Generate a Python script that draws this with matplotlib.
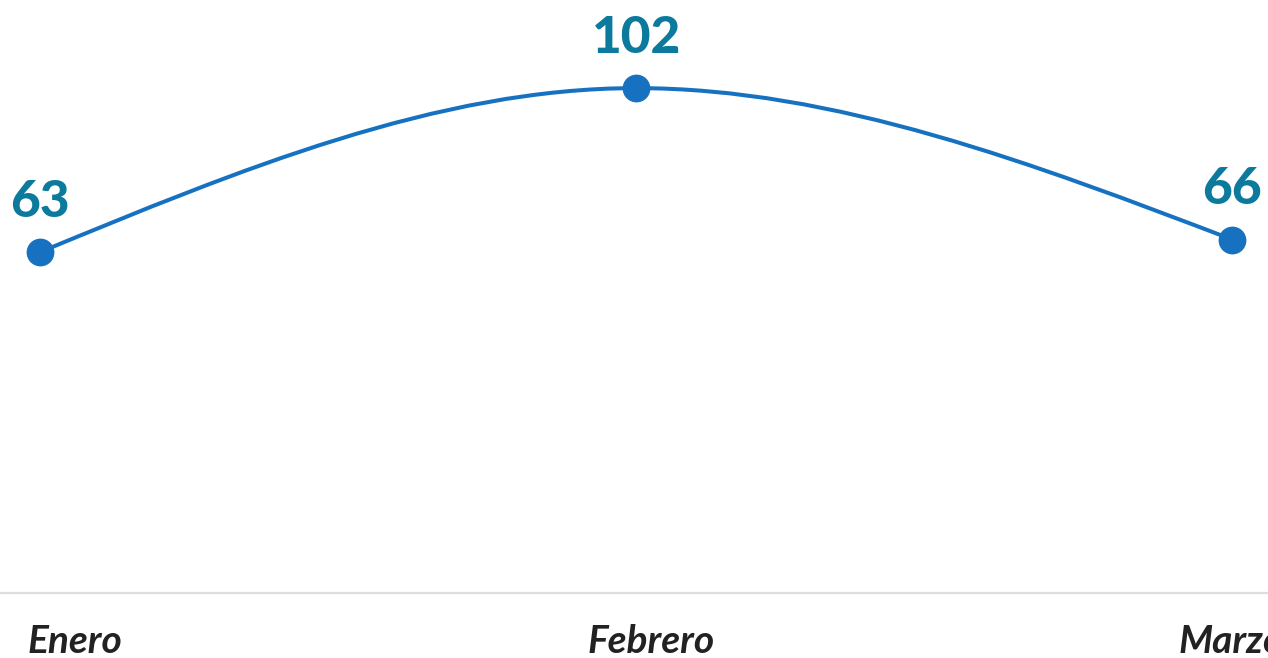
import numpy as np
import matplotlib.pyplot as plt
from matplotlib.path import Path
from matplotlib.patches import PathPatch

months = ['Enero', 'Febrero', 'Marzo']
values = [63, 102, 66]

x = np.arange(len(values))
y = np.array(values, dtype=float)

# monotone-x style smooth curve (same as d3 curveMonotoneX)
def monotone_path(x, y):
    n = len(x)
    s = np.diff(y) / np.diff(x)
    t = np.zeros(n)
    for i in range(1, n - 1):
        if s[i - 1] * s[i] > 0:
            h0 = x[i] - x[i - 1]
            h1 = x[i + 1] - x[i]
            p = (s[i - 1] * h1 + s[i] * h0) / (h0 + h1)
            t[i] = (np.sign(s[i - 1]) + np.sign(s[i])) * min(abs(s[i - 1]), abs(s[i]), 0.5 * abs(p))
    t[0] = (3 * s[0] - t[1]) / 2
    t[-1] = (3 * s[-1] - t[-2]) / 2
    verts = [(x[0], y[0])]
    codes = [Path.MOVETO]
    for i in range(n - 1):
        dx = (x[i + 1] - x[i]) / 3
        verts += [(x[i] + dx, y[i] + dx * t[i]),
                  (x[i + 1] - dx, y[i + 1] - dx * t[i + 1]),
                  (x[i + 1], y[i + 1])]
        codes += [Path.CURVE4] * 3
    return Path(verts, codes)

fig = plt.figure(figsize=(12.68, 6.58), dpi=100)
ax = fig.add_axes([0, 0, 1, 1])

line_color = '#1672c0'
ax.add_patch(PathPatch(monotone_path(x, y), facecolor='none', edgecolor=line_color, lw=2.9, zorder=2))
ax.plot(x, y, 'o', color=line_color, markersize=19, zorder=3)

for xi, v in zip(x, values):
    ax.annotate(str(v), (xi, v), xytext=(0, 19), textcoords='offset points',
                ha='center', va='bottom', fontsize=37, fontweight=900,
                family='Lato', color='#0b7a9c')

ax.axhline(-18, color='#dddddd', lw=1.6, zorder=1)

label_off = [-8.6, -35, -39]
for xi, m, off in zip(x, months, label_off):
    ax.annotate(m, (xi, -18), xytext=(off, -43), textcoords='offset points',
                ha='left', va='baseline', fontsize=28, style='italic', fontweight='bold',
                family='Lato', color='#222222')

ax.set_xlim(-0.067, 2.06)
ax.set_ylim(-33.5, 122.95)
ax.axis('off')

fig.savefig('out.png', dpi=100)
